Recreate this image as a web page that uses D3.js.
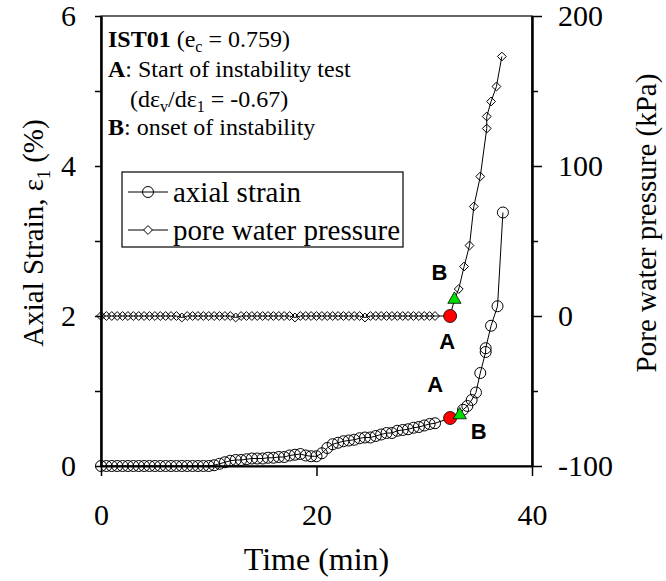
<!DOCTYPE html>
<html>
<head>
<meta charset="utf-8">
<script src="https://cdn.jsdelivr.net/npm/d3@7"></script>
<style>
  body { margin: 0; background: #fff; }
  svg text { font-family: "Liberation Serif", "Times New Roman", serif; fill: #000; }
  .axis path, .axis line { stroke: #000; }
</style>
</head>
<body>
<svg id="chart" width="666" height="581"></svg>
<script>

// time (min) for the regular readings, every half minute
var timeMin = [0,0.5,1,1.5,2,2.5,3,3.5,4,4.5,5,5.5,6,6.5,7,7.5,8,8.5,9,9.5,
  10,10.5,11,11.5,12,12.5,13,13.5,14,14.5,15,15.5,16,16.5,17,17.5,18,18.5,19,19.5,
  20,20.5,21,21.5,22,22.5,23,23.5,24,24.5,25,25.5,26,26.5,27,27.5,28,28.5,29,29.5,
  30,30.5,31];

var strainPct = [0,0,0,0,0,0,0,0,0,0,0,0,0,0,0,0,0,0,0,0,
  0,0.01,0.03,0.05,0.07,0.08,0.08,0.09,0.10,0.10,0.10,0.11,0.11,0.12,0.12,0.14,0.15,0.16,0.14,0.13,
  0.13,0.17,0.24,0.29,0.31,0.33,0.34,0.35,0.37,0.38,0.38,0.40,0.42,0.44,0.44,0.47,0.48,0.49,0.51,0.52,
  0.54,0.56,0.57];

var pwpKPa = [0,0,0,0,0,0,0,0,0,0,0,0,0,0,0,-1,0,0,0,0,
  0,0,0,0,0,-1,0,0,0,0,0,0,0,0,0,0,-1,0,0,0,
  0,0,0,0,0,0,0,0,0,-1,0,0,0,0,0,0,0,0,0,0,
  0,0,0];

// readings after the onset of instability
var strainTailTime = [33.6, 34.0, 34.4, 34.8, 35.2, 35.7, 35.7, 36.2, 36.8, 37.3];
var strainTailPct  = [0.75, 0.80, 0.88, 0.98, 1.24, 1.52, 1.57, 1.87, 2.13, 3.38];
var pwpTailTime = [33.2, 33.7, 34.2, 34.6, 35.2, 35.8, 35.8, 36.2, 36.7, 37.2];
var pwpTailKPa  = [18, 33, 47, 73, 93, 125, 133, 143, 153, 173];

// A: start of instability test, B: onset of instability
var pointA = {time: 32.4, strain: 0.64, pwp: 0};
var pointBStrain = {time: 33.3, strain: 0.68};
var pointBPwp = {time: 32.8, pwp: 11};

var xTicks = [0, 20, 40];
var yTicks = [0, 2, 4, 6];
var yMinor = [1, 3, 5];
var y2Ticks = [-100, 0, 100, 200];
var y2Minor = [-50, 50, 150];

var margin = {top: 16, right: 134, bottom: 115, left: 101},
    width = 666 - margin.left - margin.right,
    height = 581 - margin.top - margin.bottom;

var x = d3.scaleLinear().domain([0, 40]).range([0, width]);
var y = d3.scaleLinear().domain([0, 6]).range([height, 0]);
var y2 = d3.scaleLinear().domain([-100, 200]).range([height, 0]);

var plain = function(d) { return String(d); };

var svg = d3.select("#chart")
  .append("g")
    .attr("transform", "translate(" + margin.left + "," + margin.top + ")");

// frame
svg.append("rect")
    .attr("width", width).attr("height", height)
    .style("fill", "none").style("stroke", "#000").style("stroke-width", 1.2);

// axes
var tickFont = "30px";
function styleTicks(g) {
  g.selectAll("text").style("font-size", tickFont).style("font-family", "Liberation Serif");
}

svg.append("g")
    .attr("class", "axis")
    .attr("transform", "translate(0," + height + ")")
    .call(d3.axisBottom(x).tickValues(xTicks).tickFormat(plain).tickSize(10).tickSizeOuter(0).tickPadding(28))
    .call(styleTicks);

svg.append("g")
    .attr("class", "axis")
    .call(d3.axisLeft(y).tickValues(yTicks).tickFormat(plain).tickSize(6).tickSizeOuter(0).tickPadding(19))
    .call(styleTicks);

svg.append("g")
    .attr("class", "axis")
    .call(d3.axisLeft(y).tickValues(yMinor).tickSize(6).tickSizeOuter(0).tickFormat(""));

svg.append("g")
    .attr("class", "axis")
    .attr("transform", "translate(" + width + ",0)")
    .call(d3.axisRight(y2).tickValues(y2Ticks).tickFormat(plain).tickSize(10).tickSizeOuter(0).tickPadding(16))
    .call(styleTicks);

svg.append("g")
    .attr("class", "axis")
    .attr("transform", "translate(" + width + ",0)")
    .call(d3.axisRight(y2).tickValues(y2Minor).tickSize(6).tickSizeOuter(0).tickFormat(""));

svg.selectAll(".axis path").style("stroke-width", 2);
svg.selectAll(".axis line").style("stroke-width", 1.5);

// axis titles
svg.append("text")
    .attr("x", width / 2).attr("y", 554)
    .attr("text-anchor", "middle")
    .style("font-size", "32px")
    .text("Time (min)");

var yl = svg.append("text")
    .attr("transform", "translate(-58," + 217 + ") rotate(-90)")
    .attr("text-anchor", "middle")
    .style("font-size", "29px");
yl.append("tspan").text("Axial Strain, ε");
yl.append("tspan").attr("dy", 7).style("font-size", "18px").text("1");
yl.append("tspan").attr("dy", -7).text(" (%)");

svg.append("text")
    .attr("transform", "translate(" + (width + 124) + "," + 207 + ") rotate(-90)")
    .attr("text-anchor", "middle")
    .style("font-size", "29px")
    .text("Pore water pressure (kPa)");

// series
var strainPts = timeMin.map(function(t, i) { return {t: t, v: strainPct[i]}; });
var pwpPts = timeMin.map(function(t, i) { return {t: t, v: pwpKPa[i]}; });
var strainTail = strainTailTime.map(function(t, i) { return {t: t, v: strainTailPct[i]}; });
var pwpTail = pwpTailTime.map(function(t, i) { return {t: t, v: pwpTailKPa[i]}; });

var strainLineData = strainPts
  .concat([{t: pointA.time, v: pointA.strain}, {t: pointBStrain.time, v: pointBStrain.strain}])
  .concat(strainTail);
var pwpLineData = pwpPts
  .concat([{t: pointA.time, v: pointA.pwp}, {t: pointBPwp.time, v: pointBPwp.pwp}])
  .concat(pwpTail);

var strainLine = d3.line().x(function(d) { return x(d.t); }).y(function(d) { return y(d.v); });
var pwpLine = d3.line().x(function(d) { return x(d.t); }).y(function(d) { return y2(d.v); });

svg.append("path").datum(strainLineData).attr("d", strainLine)
    .style("fill", "none").style("stroke", "#000").style("stroke-width", 1);
svg.append("path").datum(pwpLineData).attr("d", pwpLine)
    .style("fill", "none").style("stroke", "#000").style("stroke-width", 1);

var diamond = d3.symbol().type(d3.symbolDiamond2).size(50);

svg.selectAll(".pwp")
    .data(pwpPts.concat(pwpTail))
  .enter().append("path")
    .attr("class", "pwp")
    .attr("d", diamond)
    .attr("transform", function(d) { return "translate(" + x(d.t) + "," + y2(d.v) + ")"; })
    .style("fill", "none").style("stroke", "#000").style("stroke-width", 1);

svg.selectAll(".dot")
    .data(strainPts.concat(strainTail))
  .enter().append("circle")
    .attr("class", "dot")
    .attr("r", 5.5)
    .attr("cx", function(d) { return x(d.t); })
    .attr("cy", function(d) { return y(d.v); })
    .style("fill", "none").style("stroke", "#000").style("stroke-width", 1);

// A and B markers
svg.append("circle").attr("cx", x(pointA.time)).attr("cy", y(pointA.strain)).attr("r", 6.5)
    .style("fill", "#ff0000").style("stroke", "#000").style("stroke-width", 0.8);
svg.append("circle").attr("cx", x(pointA.time)).attr("cy", y2(pointA.pwp)).attr("r", 6.5)
    .style("fill", "#ff0000").style("stroke", "#000").style("stroke-width", 0.8);

var tri = d3.symbol().type(d3.symbolTriangle).size(75);
svg.append("path").attr("d", tri)
    .attr("transform", "translate(" + x(pointBStrain.time) + "," + y(pointBStrain.strain) + ")")
    .style("fill", "#00dd00").style("stroke", "#000").style("stroke-width", 0.8);
svg.append("path").attr("d", tri)
    .attr("transform", "translate(" + x(pointBPwp.time) + "," + y2(pointBPwp.pwp) + ")")
    .style("fill", "#00dd00").style("stroke", "#000").style("stroke-width", 0.8);

function markLabel(txt, px, py) {
  svg.append("text")
      .attr("x", px).attr("y", py)
      .attr("text-anchor", "middle")
      .style("font-family", "Liberation Sans, Arial, sans-serif")
      .style("font-weight", "bold")
      .style("font-size", "22px")
      .text(txt);
}
markLabel("B", x(pointBPwp.time) - 15, y2(pointBPwp.pwp) - 20);
markLabel("A", x(pointA.time) - 3, y2(pointA.pwp) + 33);
markLabel("A", x(pointA.time) - 15, y(pointA.strain) - 26);
markLabel("B", x(pointBStrain.time) + 19, y(pointBStrain.strain) + 9 + 15);

// annotation
var note = svg.append("text").attr("x", 7).attr("y", 31).style("font-size", "24px");
note.append("tspan").style("font-weight", "bold").text("IST01");
note.append("tspan").text(" (e");
note.append("tspan").attr("dy", 5).style("font-size", "16px").text("c");
note.append("tspan").attr("dy", -5).text(" = 0.759)");

var note2 = svg.append("text").attr("x", 7).attr("y", 61).style("font-size", "24px");
note2.append("tspan").style("font-weight", "bold").text("A");
note2.append("tspan").text(": Start of instability test");

var note3 = svg.append("text").attr("x", 29).attr("y", 91).style("font-size", "24px");
note3.append("tspan").text("(dε");
note3.append("tspan").attr("dy", 5).style("font-size", "16px").text("v");
note3.append("tspan").attr("dy", -5).text("/dε");
note3.append("tspan").attr("dy", 5).style("font-size", "16px").text("1");
note3.append("tspan").attr("dy", -5).text(" = -0.67)");

var note4 = svg.append("text").attr("x", 7).attr("y", 119).style("font-size", "24px");
note4.append("tspan").style("font-weight", "bold").text("B");
note4.append("tspan").text(": onset of instability");

// legend
var legend = svg.append("g").attr("transform", "translate(21,156)");
legend.append("rect").attr("width", 281).attr("height", 75)
    .style("fill", "#fff").style("stroke", "#000").style("stroke-width", 1.2);

legend.append("line").attr("x1", 6).attr("x2", 46).attr("y1", 20).attr("y2", 20).style("stroke", "#000");
legend.append("circle").attr("cx", 26).attr("cy", 20).attr("r", 5.5)
    .style("fill", "none").style("stroke", "#000");
legend.append("text").attr("x", 51).attr("y", 30).style("font-size", "29px").text("axial strain");

legend.append("line").attr("x1", 6).attr("x2", 46).attr("y1", 58).attr("y2", 58).style("stroke", "#000");
legend.append("path").attr("d", diamond).attr("transform", "translate(26,58)")
    .style("fill", "#fff").style("stroke", "#000");
legend.append("text").attr("x", 51).attr("y", 68).style("font-size", "29px").text("pore water pressure");

</script>
</body>
</html>
